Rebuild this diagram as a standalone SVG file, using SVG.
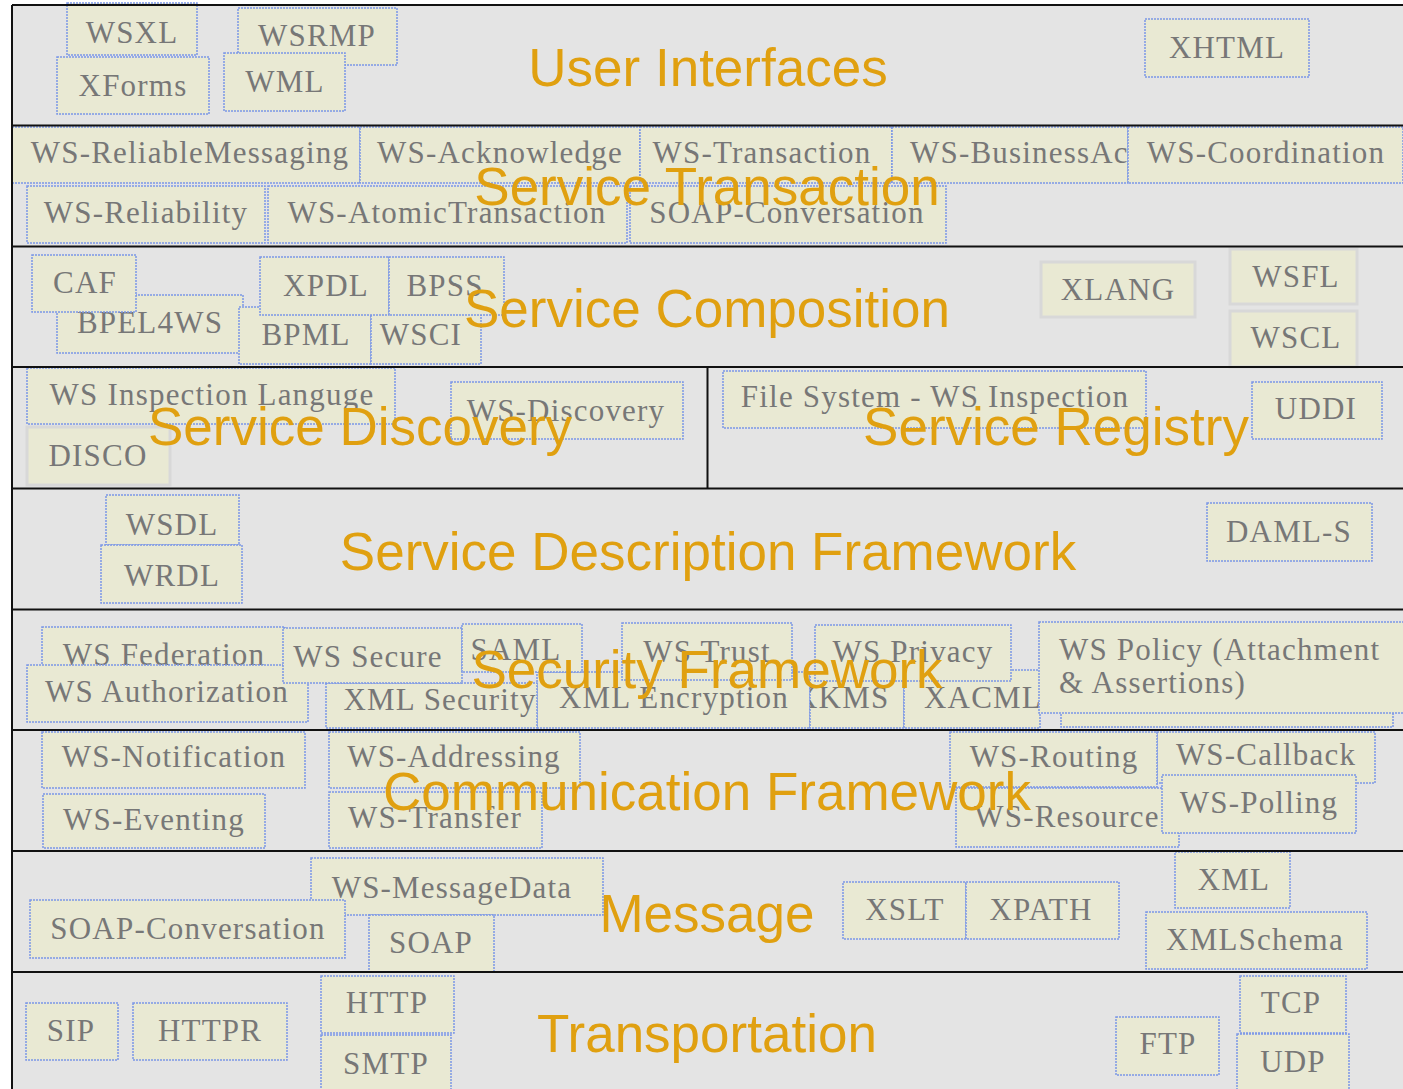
<svg xmlns="http://www.w3.org/2000/svg" width="1403" height="1089" viewBox="0 0 1403 1089">
<style>
.bg{fill:#e4e4e4}
.b{fill:#e9e9d3;stroke:#7b96e6;stroke-width:1.5;stroke-dasharray:2 1}
.g{fill:#e9e9d3;stroke:#d8d8d8;stroke-width:3}
.t{font-family:"Liberation Serif","Times New Roman",serif;font-size:31px;fill:#777777;text-anchor:middle;letter-spacing:1.2px}
.s{text-anchor:start}
.h{font-family:"Liberation Sans",Arial,sans-serif;font-size:53px;fill:#e0a010;text-anchor:middle}
.sep{stroke:#111111;stroke-width:2;fill:none}
</style>
<defs>
<clipPath id="clipXkms"><rect x="810" y="672" width="94" height="56"/></clipPath>
</defs>
<rect x="0" y="0" width="1403" height="1089" fill="#ffffff"/>
<rect class="bg" x="12" y="5" width="1391" height="1084"/>

<!-- Row 1: User Interfaces -->
<g id="n-wsxl"><rect class="b" x="67" y="3" width="130" height="52"/><text class="t" x="132" y="43">WSXL</text></g>
<g id="n-wsrmp"><rect class="b" x="238" y="8" width="159" height="57"/><text class="t" x="317" y="46">WSRMP</text></g>
<g id="n-xforms"><rect class="b" x="57" y="57" width="152" height="57"/><text class="t" x="133" y="96">XForms</text></g>
<g id="n-wml"><rect class="b" x="224" y="53" width="121" height="58"/><text class="t" x="285" y="92">WML</text></g>
<g id="n-xhtml"><rect class="b" x="1145" y="19" width="164" height="58"/><text class="t" x="1227" y="58">XHTML</text></g>

<!-- Row 2: Service Transaction -->
<g id="n-ws-reliablemessaging"><rect class="b" x="12" y="127" width="348" height="56"/><text class="t" x="190" y="163">WS-ReliableMessaging</text></g>
<g id="n-ws-acknowledge"><rect class="b" x="360" y="127" width="280" height="56"/><text class="t" x="500" y="163">WS-Acknowledge</text></g>
<g id="n-ws-transaction"><rect class="b" x="640" y="127" width="252" height="56"/><text class="t" x="762" y="163">WS-Transaction</text></g>
<g id="n-ws-businessac"><rect class="b" x="892" y="127" width="236" height="56"/><text class="t s" x="910" y="163">WS-BusinessAc</text></g>
<g id="n-ws-coordination"><rect class="b" x="1128" y="127" width="275" height="56"/><text class="t" x="1266" y="163">WS-Coordination</text></g>
<g id="n-ws-reliability"><rect class="b" x="27" y="186" width="238" height="57"/><text class="t" x="146" y="223">WS-Reliability</text></g>
<g id="n-ws-atomictransaction"><rect class="b" x="268" y="186" width="359" height="57"/><text class="t" x="447" y="223">WS-AtomicTransaction</text></g>
<g id="n-soap-conversation-tx"><rect class="b" x="630" y="186" width="316" height="57"/><text class="t" x="787" y="223">SOAP-Conversation</text></g>

<!-- Row 3: Service Composition -->
<g id="n-bpel4ws"><rect class="b" x="57" y="295" width="186" height="58"/><text class="t" x="150" y="333">BPEL4WS</text></g>
<g id="n-caf"><rect class="b" x="32" y="255" width="104" height="57"/><text class="t" x="85" y="293">CAF</text></g>
<g id="n-bpml"><rect class="b" x="239" y="307" width="132" height="57"/><text class="t" x="306" y="345">BPML</text></g>
<g id="n-wsci"><rect class="b" x="371" y="307" width="110" height="57"/><text class="t" x="421" y="345">WSCI</text></g>
<g id="n-xpdl"><rect class="b" x="260" y="257" width="129" height="58"/><text class="t" x="326" y="296">XPDL</text></g>
<g id="n-bpss"><rect class="b" x="389" y="257" width="115" height="58"/><text class="t" x="445" y="296">BPSS</text></g>
<g id="n-xlang"><rect class="g" x="1041" y="262" width="154" height="55"/><text class="t" x="1118" y="300">XLANG</text></g>
<g id="n-wsfl"><rect class="g" x="1230" y="249" width="127" height="55"/><text class="t" x="1296" y="287">WSFL</text></g>
<g id="n-wscl"><rect class="g" x="1230" y="311" width="127" height="56"/><text class="t" x="1296" y="348">WSCL</text></g>

<!-- Row 4: Service Discovery / Registry -->
<g id="n-ws-inspection-languge"><rect class="b" x="27" y="368" width="368" height="56"/><text class="t" x="212" y="405">WS Inspection Languge</text></g>
<g id="n-disco"><rect class="g" x="27" y="427" width="143" height="58"/><text class="t" x="98" y="466">DISCO</text></g>
<g id="n-ws-discovery"><rect class="b" x="451" y="382" width="232" height="57"/><text class="t" x="566" y="421">WS-Discovery</text></g>
<g id="n-file-system-ws-inspection"><rect class="b" x="723" y="371" width="423" height="57"/><text class="t" x="935" y="407">File System - WS Inspection</text></g>
<g id="n-uddi"><rect class="b" x="1252" y="382" width="130" height="57"/><text class="t" x="1316" y="419">UDDI</text></g>

<!-- Row 5: Service Description Framework -->
<g id="n-wsdl"><rect class="b" x="106" y="495" width="133" height="50"/><text class="t" x="172" y="535">WSDL</text></g>
<g id="n-wrdl"><rect class="b" x="101" y="545" width="141" height="58"/><text class="t" x="172" y="586">WRDL</text></g>
<g id="n-daml-s"><rect class="b" x="1207" y="503" width="165" height="58"/><text class="t" x="1289" y="542">DAML-S</text></g>

<!-- Row 6: Security Framework -->
<g id="n-xml-encryption"><rect class="b" x="537" y="672" width="273" height="56"/><text class="t" x="674" y="708">XML Encryption</text></g>
<g id="n-xkms"><rect class="b" x="810" y="672" width="94" height="56"/><text class="t s" x="795" y="708" clip-path="url(#clipXkms)">XKMS</text></g>
<g id="n-xacml"><rect class="b" x="904" y="670" width="136" height="58"/><text class="t s" x="924" y="708">XACML</text></g>
<g id="n-xml-security"><rect class="b" x="326" y="683" width="211" height="45"/><text class="t" x="440" y="710">XML Security</text></g>
<g id="n-ws-federation"><rect class="b" x="42" y="627" width="243" height="56"/><text class="t" x="164" y="665">WS Federation</text></g>
<g id="n-ws-authorization"><rect class="b" x="27" y="665" width="281" height="57"/><text class="t" x="167" y="702">WS Authorization</text></g>
<g id="n-ws-secure"><rect class="b" x="283" y="628" width="179" height="55"/><text class="t" x="368" y="667">WS Secure</text></g>
<g id="n-saml"><rect class="b" x="462" y="624" width="120" height="48"/><text class="t" x="516" y="660">SAML</text></g>
<g id="n-ws-trust"><rect class="b" x="622" y="623" width="170" height="57"/><text class="t" x="707" y="662">WS Trust</text></g>
<g id="n-ws-privacy"><rect class="b" x="815" y="625" width="196" height="56"/><text class="t" x="913" y="662">WS Privacy</text></g>
<g id="n-ws-policy"><rect class="b" x="1061" y="700" width="332" height="27"/><rect class="b" x="1039" y="622" width="366" height="91"/><text class="t s" x="1059" y="660">WS Policy (Attachment</text><text class="t s" x="1059" y="693">&amp; Assertions)</text></g>

<!-- Row 7: Communication Framework -->
<g id="n-ws-notification"><rect class="b" x="42" y="732" width="263" height="56"/><text class="t" x="174" y="767">WS-Notification</text></g>
<g id="n-ws-eventing"><rect class="b" x="43" y="794" width="222" height="54"/><text class="t" x="154" y="830">WS-Eventing</text></g>
<g id="n-ws-addressing"><rect class="b" x="329" y="732" width="251" height="56"/><text class="t" x="454" y="767">WS-Addressing</text></g>
<g id="n-ws-transfer"><rect class="b" x="329" y="792" width="213" height="56"/><text class="t" x="435" y="828">WS-Transfer</text></g>
<g id="n-ws-callback"><rect class="b" x="1157" y="732" width="218" height="51"/><text class="t" x="1266" y="765">WS-Callback</text></g>
<g id="n-ws-resource"><rect class="b" x="956" y="788" width="223" height="59"/><text class="t" x="1067" y="827">WS-Resource</text></g>
<g id="n-ws-routing"><rect class="b" x="950" y="732" width="207" height="55"/><text class="t" x="1054" y="767">WS-Routing</text></g>
<g id="n-ws-polling"><rect class="b" x="1162" y="775" width="194" height="58"/><text class="t" x="1259" y="813">WS-Polling</text></g>

<!-- Row 8: Message -->
<g id="n-ws-messagedata"><rect class="b" x="311" y="858" width="292" height="57"/><text class="t" x="452" y="898">WS-MessageData</text></g>
<g id="n-soap-conversation-msg"><rect class="b" x="30" y="900" width="315" height="58"/><text class="t" x="188" y="939">SOAP-Conversation</text></g>
<g id="n-soap"><rect class="b" x="369" y="915" width="125" height="57"/><text class="t" x="431" y="953">SOAP</text></g>
<g id="n-xslt"><rect class="b" x="843" y="882" width="123" height="57"/><text class="t" x="905" y="920">XSLT</text></g>
<g id="n-xpath"><rect class="b" x="966" y="882" width="153" height="57"/><text class="t" x="1041" y="920">XPATH</text></g>
<g id="n-xml"><rect class="b" x="1175" y="852" width="115" height="56"/><text class="t" x="1234" y="890">XML</text></g>
<g id="n-xmlschema"><rect class="b" x="1146" y="912" width="221" height="57"/><text class="t" x="1255" y="950">XMLSchema</text></g>

<!-- Row 9: Transportation -->
<g id="n-sip"><rect class="b" x="26" y="1003" width="92" height="57"/><text class="t" x="71" y="1041">SIP</text></g>
<g id="n-httpr"><rect class="b" x="133" y="1003" width="154" height="57"/><text class="t" x="210" y="1041">HTTPR</text></g>
<g id="n-http"><rect class="b" x="321" y="976" width="133" height="57"/><text class="t" x="387" y="1013">HTTP</text></g>
<g id="n-smtp"><rect class="b" x="321" y="1035" width="130" height="60"/><text class="t" x="386" y="1074">SMTP</text></g>
<g id="n-ftp"><rect class="b" x="1116" y="1017" width="103" height="58"/><text class="t" x="1168" y="1054">FTP</text></g>
<g id="n-tcp"><rect class="b" x="1240" y="976" width="106" height="57"/><text class="t" x="1291" y="1013">TCP</text></g>
<g id="n-udp"><rect class="b" x="1237" y="1034" width="112" height="60"/><text class="t" x="1293" y="1072">UDP</text></g>

<!-- Layer borders -->
<g id="layer-borders">
<line class="sep" x1="12" y1="5" x2="1403" y2="5"/>
<line class="sep" x1="12" y1="5" x2="12" y2="1089"/>
<line class="sep" x1="12" y1="125.5" x2="1403" y2="125.5"/>
<line class="sep" x1="12" y1="246.5" x2="1403" y2="246.5"/>
<line class="sep" x1="12" y1="367" x2="1403" y2="367"/>
<line class="sep" x1="707.5" y1="367" x2="707.5" y2="488.5"/>
<line class="sep" x1="12" y1="488.5" x2="1403" y2="488.5"/>
<line class="sep" x1="12" y1="609.5" x2="1403" y2="609.5"/>
<line class="sep" x1="12" y1="730" x2="1403" y2="730"/>
<line class="sep" x1="12" y1="851" x2="1403" y2="851"/>
<line class="sep" x1="12" y1="972" x2="1403" y2="972"/>
</g>

<!-- Layer titles -->
<g id="layer-titles">
<text class="h" x="708" y="86">User Interfaces</text>
<text class="h" x="707" y="205">Service Transaction</text>
<text class="h" x="707" y="327">Service Composition</text>
<text class="h" x="360" y="445">Service Discovery</text>
<text class="h" x="1056" y="445">Service Registry</text>
<text class="h" x="708" y="570">Service Description Framework</text>
<text class="h" x="707" y="688">Security Framework</text>
<text class="h" x="707" y="810">Communication Framework</text>
<text class="h" x="707" y="932">Message</text>
<text class="h" x="707" y="1052">Transportation</text>
</g>
</svg>
